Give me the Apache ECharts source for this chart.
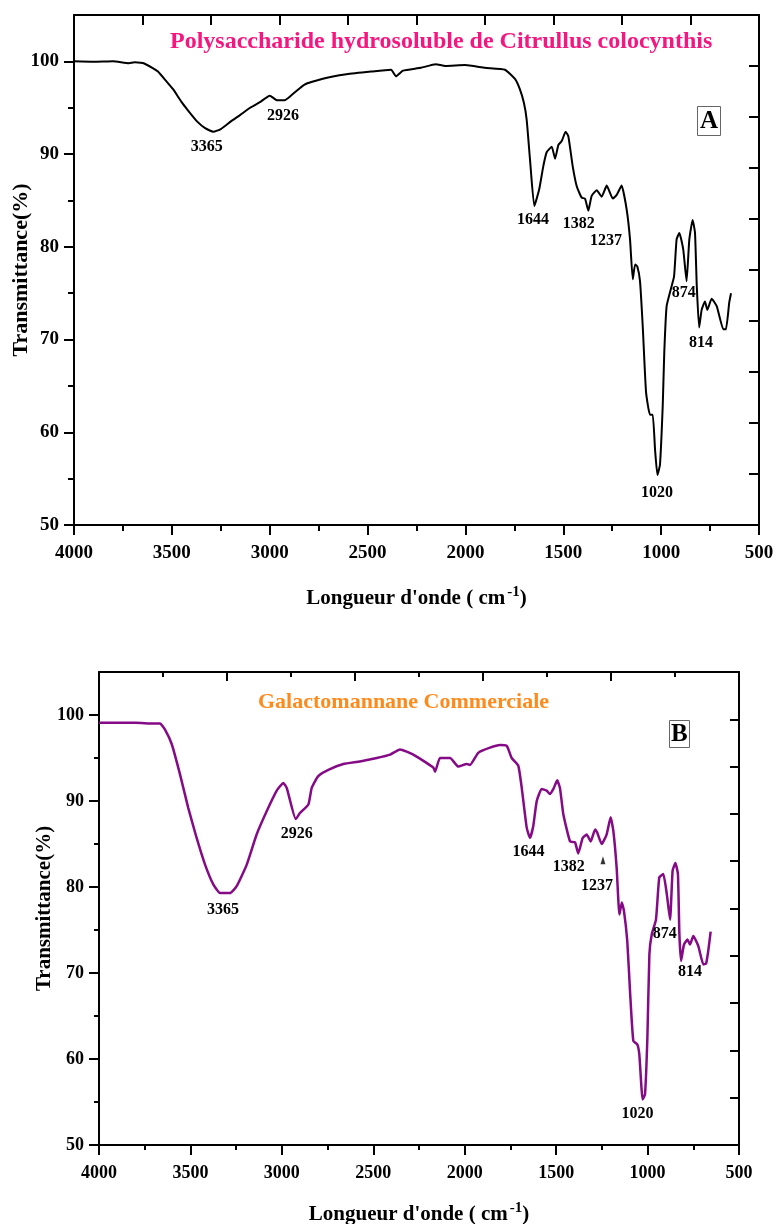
<!DOCTYPE html>
<html><head><meta charset="utf-8">
<script src="https://cdn.jsdelivr.net/npm/echarts@6/dist/echarts.min.js"></script>
<style>html,body{margin:0;padding:0;background:#fff}#c{width:776px;height:1224px}</style>
</head><body><div id="c"></div>
<script>
// ---- data ----
const xTickLabels = [4000, 3500, 3000, 2500, 2000, 1500, 1000, 500];
const yMajorTicks = [50, 60, 70, 80, 90, 100];
const yMinorTicks = [55, 65, 75, 85, 95];

const titleA = 'Polysaccharide hydrosoluble de Citrullus colocynthis';
const titleB = 'Galactomannane Commerciale';

const waveA = [4000,3900,3800,3720,3690,3660,3644,3600,3571,3530,3494,3450,3417,3370,3330,3288,3250,3200,3152,3100,3050,3000,2962,2924,2886,2822,2734,2608,2482,2380,2355,2319,2228,2152,2102,2002,1900,1798,1747,1722,1701,1687,1670,1648,1623,1602,1585,1559,1542,1525,1508,1488,1474,1452,1431,1406,1389,1372,1355,1329,1304,1278,1247,1227,1202,1176,1159,1145,1133,1122,1108,1094,1077,1057,1043,1031,1019,1006,992,984,972,951,934,921,907,887,870,856,839,827,818,806,793,776,764,742,716,682,669,652,643];
const transA = [100.0,99.95,100.0,99.8,99.9,99.85,99.8,99.3,98.9,97.9,97.0,95.6,94.7,93.5,92.8,92.4,92.7,93.5,94.2,95.0,95.6,96.3,95.8,95.8,96.4,97.5,98.1,98.6,98.9,99.1,98.4,99.0,99.3,99.7,99.5,99.6,99.3,99.1,98.1,97.0,95.5,93.7,89.4,84.4,86.2,88.7,90.2,90.8,89.5,91.0,91.4,92.4,91.9,88.7,86.5,85.3,85.2,83.9,85.5,86.1,85.4,86.6,85.2,85.6,86.6,84.0,80.8,76.5,78.1,77.9,76.3,71.4,64.3,61.9,61.9,58.1,55.4,56.5,62.8,68.6,73.6,75.4,76.8,80.8,81.5,79.7,76.3,80.8,82.9,81.5,75.8,71.3,73.2,74.1,73.2,74.4,73.6,71.1,71.1,74.0,75.0];

const waveB = [4000,3800,3700,3666,3639,3602,3557,3512,3466,3420,3375,3338,3284,3247,3192,3138,3083,3028,2992,2973,2924,2901,2855,2837,2801,2737,2664,2573,2481,2408,2354,2281,2172,2162,2135,2080,2035,1989,1971,1926,1862,1807,1770,1743,1707,1688,1661,1643,1625,1606,1579,1552,1534,1515,1494,1479,1461,1424,1397,1379,1355,1333,1311,1287,1275,1251,1224,1202,1187,1169,1154,1141,1129,1111,1096,1078,1056,1045,1027,1014,1001,990,977,954,936,914,895,877,863,848,834,826,817,801,782,768,750,722,695,680,668,655];
const transB = [99.1,99.1,99.0,99.0,98.3,96.6,93.1,89.2,85.7,82.6,80.3,79.3,79.3,80.1,82.6,86.1,88.8,91.2,92.1,91.5,87.9,88.6,89.6,91.5,92.9,93.7,94.3,94.6,95.0,95.4,96.0,95.4,93.9,93.4,95.0,95.0,94.0,94.3,94.2,95.6,96.2,96.5,96.4,95.0,94.1,91.5,86.9,85.7,87.1,90.0,91.4,91.2,90.8,91.4,92.4,91.5,88.5,85.3,85.2,83.9,85.7,86.1,85.3,86.7,86.3,85.0,86.1,88.1,86.5,82.2,76.8,78.2,77.2,73.7,67.9,62.1,61.7,60.5,55.3,55.9,62.5,72.2,74.5,76.2,81.1,81.5,79.2,76.2,81.9,82.8,81.5,74.5,71.4,73.3,73.9,73.3,74.3,73.1,71.0,71.1,72.6,74.8];

// peak annotations: label text, wavenumber position, transmittance position
const peakNames = ['3365','2926','1644','1382','1237','874','814','1020'];
const peakLabelXA = [3322, 2932, 1655, 1421, 1282, 885, 796, 1021];
const peakLabelYA = [90.8, 94.1, 82.9, 82.5, 80.6, 75.0, 69.6, 53.5];
const peakLabelXB = [3322, 2919, 1651, 1431, 1276, 906, 768, 1055];
const peakLabelYB = [77.4, 86.2, 84.1, 82.3, 80.1, 74.6, 70.1, 53.6];
const arrowB = [1244, 83.1];

// ---- chart ----
const FONT = "'Liberation Serif','Times New Roman',serif";
const zip = (a, b) => a.map((v, i) => [v, b[i]]);
const chart = echarts.init(document.getElementById('c'), null, {renderer: 'canvas'});

const grids = [
  {left: 74, top: 15, width: 685, height: 510, outerBoundsMode: 'none', containLabel: false},
  {left: 99, top: 672, width: 640, height: 473, outerBoundsMode: 'none', containLabel: false}
];
const tickLen = [{maj: 10, min: 6, frame: 10}, {maj: 10, min: 5, frame: 9}];
const nameGapY = [42, 44];
const nameGapX = [60, 56];
const xLabelSize = [19, 18];
const yLabelSize = [19, 18];
const yTitleSize = [22, 21];

const xAxes = [], yAxes = [];
grids.forEach((g, i) => {
  const t = tickLen[i];
  xAxes.push({
    gridIndex: i, type: 'value', position: 'bottom', inverse: true,
    min: 500, max: 4000, interval: 500,
    axisLine: {show: true, onZero: false, lineStyle: {color: '#000', width: 2}},
    axisTick: {show: true, length: t.maj, lineStyle: {color: '#000', width: 2}},
    minorTick: {show: true, splitNumber: 2, length: t.min, lineStyle: {color: '#000', width: 2}},
    splitLine: {show: false},
    axisLabel: {show: true, margin: 19, color: '#000', fontFamily: FONT, fontWeight: 'bold', fontSize: xLabelSize[i],
      formatter: v => xTickLabels.includes(v) ? String(v) : ''},
    name: "{a|Longueur d'onde ( cm}{s|-1}{a|)}",
    nameLocation: 'middle', nameGap: nameGapX[i], nameMoveOverlap: false,
    nameTextStyle: {rich: {
      a: {fontFamily: FONT, fontWeight: 'bold', fontSize: 21, color: '#000'},
      s: {fontFamily: FONT, fontWeight: 'bold', fontSize: 15, color: '#000', padding: [0, 0, 12, 2]}
    }}
  });
  xAxes.push({
    gridIndex: i, type: 'value', position: 'top', min: 0, max: 10, interval: i === 0 ? 1 : 2,
    axisLine: {show: true, onZero: false, lineStyle: {color: '#000', width: 2}},
    axisTick: {show: true, inside: true, length: t.frame, lineStyle: {color: '#000', width: 2}},
    minorTick: {show: i === 1, splitNumber: 2, length: 5, lineStyle: {color: '#000', width: 2}},
    axisLabel: {show: false}, splitLine: {show: false}
  });
  yAxes.push({
    gridIndex: i, type: 'value', position: 'left', min: 50, max: 105,
    axisLine: {show: true, onZero: false, lineStyle: {color: '#000', width: 2}},
    axisTick: {show: true, length: t.maj, customValues: yMajorTicks, lineStyle: {color: '#000', width: 2}},
    axisLabel: {show: true, customValues: yMajorTicks, margin: 15, color: '#000', fontFamily: FONT, fontWeight: 'bold', fontSize: yLabelSize[i]},
    splitLine: {show: false},
    name: 'Transmittance(%)', nameLocation: 'middle', nameGap: nameGapY[i], nameMoveOverlap: false,
    nameTextStyle: {fontFamily: FONT, fontWeight: 'bold', fontSize: yTitleSize[i], color: '#000'}
  });
  yAxes.push({
    gridIndex: i, type: 'value', position: 'left', min: 50, max: 105,
    axisLine: {show: false},
    axisTick: {show: true, length: t.min, customValues: yMinorTicks, lineStyle: {color: '#000', width: 2}},
    axisLabel: {show: false}, splitLine: {show: false}
  });
  yAxes.push({
    gridIndex: i, type: 'value', position: 'right', min: 0, max: 10, interval: 1,
    axisLine: {show: true, onZero: false, lineStyle: {color: '#000', width: 2}},
    axisTick: {show: true, inside: true, length: t.frame, lineStyle: {color: '#000', width: 2}},
    axisLabel: {show: false}, splitLine: {show: false}
  });
});

function labelSeries(i, xs, ys) {
  return {
    type: 'scatter', xAxisIndex: i * 2, yAxisIndex: i * 3,
    symbol: 'circle', symbolSize: 1, itemStyle: {color: '#fff', opacity: 0},
    data: peakNames.map((n, k) => ({name: n, value: [xs[k], ys[k]]})),
    label: {show: true, position: 'inside', formatter: p => p.name, opacity: 1,
      color: '#000', textBorderWidth: 0, fontFamily: FONT, fontWeight: 'bold', fontSize: 16},
    silent: true, z: 5
  };
}

const option = {
  animation: false,
  backgroundColor: '#fff',
  grid: grids,
  xAxis: xAxes,
  yAxis: yAxes,
  title: [
    {text: titleA, left: 170, top: 30, padding: 0,
      textStyle: {color: '#f5167f', fontFamily: FONT, fontWeight: 'bold', fontSize: 24}},
    {text: titleB, left: 258, top: 691, padding: 0,
      textStyle: {color: '#ff8a1c', fontFamily: FONT, fontWeight: 'bold', fontSize: 22}},
    {text: 'A', left: 697, top: 106, padding: [3, 3, 2, 3], borderWidth: 1, borderColor: '#666',
      textStyle: {color: '#000', fontFamily: FONT, fontWeight: 'bold', fontSize: 25}},
    {text: 'B', left: 669, top: 720, padding: [2, 2, 1, 2], borderWidth: 1, borderColor: '#666',
      textStyle: {color: '#000', fontFamily: FONT, fontWeight: 'bold', fontSize: 25}}
  ],
  series: [
    {type: 'line', xAxisIndex: 0, yAxisIndex: 0, data: zip(waveA, transA), showSymbol: false,
      smooth: 0.15, lineStyle: {color: '#000', width: 2}, silent: true},
    {type: 'line', xAxisIndex: 2, yAxisIndex: 3, data: zip(waveB, transB), showSymbol: false,
      smooth: 0.15, lineStyle: {color: '#850a85', width: 2.5}, silent: true},
    labelSeries(0, peakLabelXA, peakLabelYA),
    labelSeries(1, peakLabelXB, peakLabelYB),
    {type: 'scatter', xAxisIndex: 2, yAxisIndex: 3, symbol: 'triangle', symbolSize: [5, 8],
      itemStyle: {color: '#000'}, data: [arrowB], silent: true}
  ]
};
chart.setOption(option);
</script></body></html>
